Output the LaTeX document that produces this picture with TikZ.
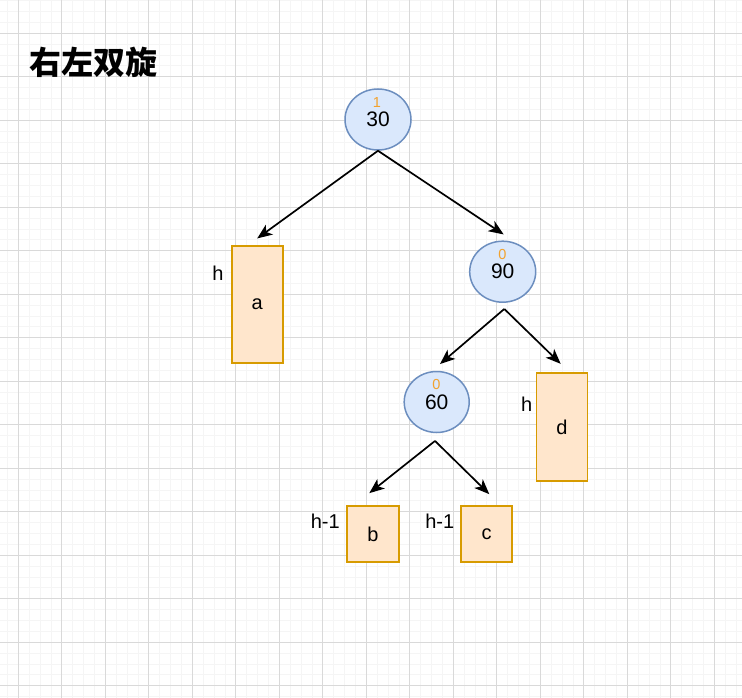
\documentclass[tikz,border=0pt]{standalone}
\usepackage{fontspec}
\setmainfont{Liberation Sans}
\newfontfamily\cjk{Noto Sans CJK SC}
\usetikzlibrary{shapes.geometric,arrows.meta,calc}
\definecolor{cfill}{HTML}{DAE8FC}
\definecolor{cline}{HTML}{6C8EBF}
\definecolor{rfill}{HTML}{FFE6CC}
\definecolor{rline}{HTML}{D79B00}
\definecolor{bal}{HTML}{F2A22E}
\definecolor{gmajor}{HTML}{D9D9D9}
\definecolor{gminor}{HTML}{F5F5F5}
\begin{document}
\begin{tikzpicture}[x=1pt,y=-1pt,
  treenode/.style={ellipse,draw=cline,fill=cfill,line width=1.5pt,inner sep=0pt,
    minimum width=66pt,minimum height=61pt,font=\fontsize{21}{24}\selectfont},
  leafbox/.style={rectangle,draw=rline,fill=rfill,line width=1.7pt,inner sep=0pt,
    minimum width=51pt,font=\fontsize{20}{24}\selectfont},
  baltext/.style={text=bal,inner sep=0pt,font=\fontsize{14.5}{16}\selectfont},
  htext/.style={inner sep=0pt,font=\fontsize{20}{24}\selectfont},
  arr/.style={-{Stealth[length=15pt,width=12pt,inset=4pt]},line width=1.7pt,black}]
\useasboundingbox (0,0) rectangle (742,698);
\fill[white] (0,0) rectangle (742,698);
% minor grid
\foreach \k in {0,...,68} {\draw[gminor,line width=0.8pt] ({7.425+10.875*\k},0) -- ({7.425+10.875*\k},698);}
\foreach \k in {0,...,64} {\draw[gminor,line width=0.8pt] (0,{0.575+10.875*\k}) -- (742,{0.575+10.875*\k});}
% major grid
\foreach \k in {0,...,16} {\draw[gmajor,line width=1pt] ({18.3+43.5*\k},0) -- ({18.3+43.5*\k},698);}
\foreach \k in {0,...,15} {\draw[gmajor,line width=1pt] (0,{33.2+43.5*\k}) -- (742,{33.2+43.5*\k});}
% title
\node[inner sep=0pt,font=\cjk\bfseries\fontsize{32}{36}\selectfont] (title) at (93.5,62) {右左双旋};
% tree nodes
\node[treenode] (n30) at (378,119.5) {30};
\node[baltext] (b30) at (377,102.5) {1};
\node[treenode] (n90) at (502.7,271.7) {90};
\node[baltext] (b90) at (502.5,255) {0};
\node[treenode,minimum width=65pt] (n60) at (436.7,402) {60};
\node[baltext] (b60) at (436.5,385) {0};
% leaf boxes
\node[leafbox,minimum height=117pt] (a) at (257.2,304.2) {a};
\node[leafbox,minimum height=108pt] (d) at (562,427) {d};
\node[leafbox,minimum height=56pt,minimum width=52pt] (b) at (373,534) {b};
\node[leafbox,minimum height=56pt] (c) at (486.5,534) {c};
% height labels
\node[htext] (ha) at (218,273.3) {h};
\node[htext] (hd) at (526.7,404) {h};
\node[htext] (hb) at (325.3,521) {h-1};
\node[htext] (hc) at (439.7,521) {h-1};
% connectors
\draw[arr] (n30.south) -- ($(a.north)+(0,-6.4)$);
\draw[arr] (n30.south) -- ($(n90.north)+(1,-6)$);
\draw[arr] ($(n90.south)+(1.6,6)$) -- ($(n60.north)+(3.3,-6.7)$);
\draw[arr] ($(n90.south)+(1.6,6)$) -- ($(d.north)+(-1.3,-8.3)$);
\draw[arr] ($(n60.south)+(-1.7,7.7)$) -- ($(b.north)+(-3.7,-12)$);
\draw[arr] ($(n60.south)+(-1.7,7.7)$) -- ($(c.north)+(2.8,-11)$);
\end{tikzpicture}
\end{document}
